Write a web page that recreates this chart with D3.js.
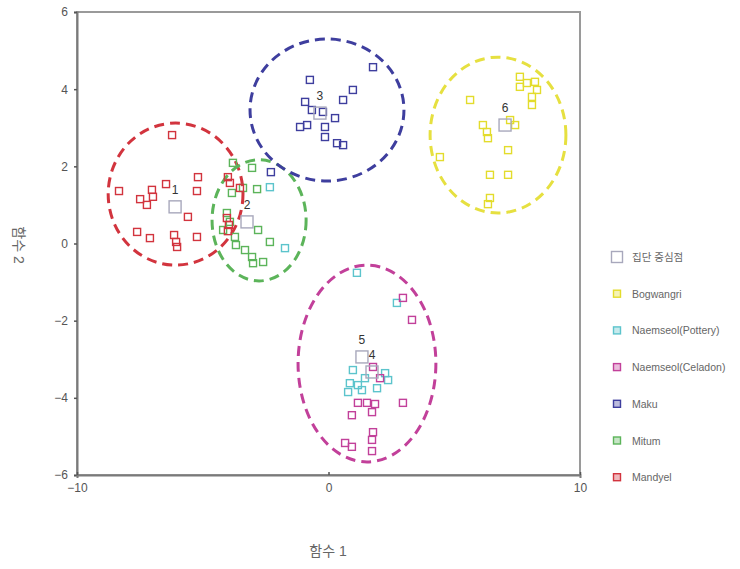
<!DOCTYPE html>
<html>
<head>
<meta charset="utf-8">
<script src="https://cdn.jsdelivr.net/npm/d3@7"></script>
<style>
  html, body { margin: 0; padding: 0; background: #fff; }
  svg { display: block; }
  text { font-family: "Liberation Sans", Arial, "Noto Sans CJK KR", sans-serif; }
</style>
</head>
<body>
<svg id="chart" width="740" height="569"></svg>
<script>
// Discriminant function scores (function 1, function 2) per group
const bogwangri = [[5.63,3.72],[7.61,4.32],[7.89,4.16],[8.21,4.19],[8.29,3.98],[8.09,3.80],[7.61,4.06],
  [8.09,3.59],[7.22,3.20],[7.42,3.07],[6.14,3.07],[6.30,2.89],[6.34,2.73],[7.14,2.42],[4.43,2.24],
  [6.42,1.78],[7.14,1.78],[6.42,1.18],[6.34,1.02]];
const naemseolPottery = [[-2.33,1.46],[-1.73,-0.12],[1.13,-0.76],[2.72,-1.54],[0.97,-3.28],[2.25,-3.36],
  [0.85,-3.62],[1.17,-3.67],[0.78,-3.85],[2.37,-3.54],[1.93,-3.75],[1.45,-3.49],[1.33,-3.80]];
const naemseolCeladon = [[2.96,-1.41],[3.32,-1.98],[1.77,-3.20],[2.05,-3.49],[1.17,-4.13],[1.53,-4.13],
  [1.85,-4.16],[0.93,-4.45],[1.73,-4.37],[2.96,-4.13],[1.77,-4.89],[1.73,-5.09],[0.66,-5.17],
  [0.93,-5.27],[1.73,-5.38]];
const maku = [[-0.74,4.24],[0.97,3.98],[0.58,3.72],[1.77,4.57],[-0.93,3.67],[-0.66,3.46],[-0.22,3.41],
  [0.26,3.25],[-0.14,3.02],[-1.13,3.02],[-0.85,3.07],[-0.14,2.76],[0.34,2.60],[0.58,2.55],[-2.29,1.85]];
const mitum = [[-3.80,2.09],[-3.04,1.96],[-3.84,1.31],[-3.40,1.44],[-2.84,1.41],[-4.04,0.79],[-3.92,0.56],
  [-4.19,0.35],[-3.72,0.17],[-2.80,0.35],[-2.33,0.04],[-3.32,-0.17],[-3.04,-0.35],[-3.00,-0.51],
  [-2.60,-0.48],[-3.68,-0.04]];
const mandyel = [[-6.22,2.81],[-8.33,1.36],[-7.49,1.15],[-7.22,1.00],[-7.02,1.39],[-6.98,1.21],[-6.46,1.54],
  [-5.19,1.72],[-5.23,1.36],[-5.59,0.69],[-7.61,0.30],[-7.10,0.14],[-6.14,0.22],[-6.06,0.04],
  [-6.02,-0.09],[-5.23,0.17],[-4.00,1.72],[-3.92,1.57],[-3.52,1.44],[-4.04,0.66],[-3.96,0.48],[-4.00,0.32]];

// Group centroids, numbered 1..6
const centroidIds = ["1","2","3","4","5","6"];
const centroidPts = [[-6.10,0.95],[-3.24,0.56],[-0.34,3.38],[1.73,-3.33],[1.33,-2.94],[7.02,3.07]];

// Group region outlines: centre x, centre y, radius x, radius y (data units)
const regionNames = ["Mandyel","Mitum","Maku","Bogwangri","Naemseol(Celadon)"];
const regionShapes = [[-6.08,1.28,2.68,1.84],[-2.76,0.60,1.87,1.57],[-0.06,3.46,3.06,1.84],
  [6.74,2.81,2.70,2.02],[1.53,-3.11,2.74,2.55]];

// Legend order
const legendLabels = ["집단 중심점","Bogwangri","Naemseol(Pottery)","Naemseol(Celadon)","Maku","Mitum","Mandyel"];

const xTicks = [-10, 0, 10];
const yTicks = [-6, -4, -2, 0, 2, 4, 6];

const colors = {
  "Bogwangri": "#e3dc2c",
  "Naemseol(Pottery)": "#5cc4cc",
  "Naemseol(Celadon)": "#c2409a",
  "Maku": "#3e3e9e",
  "Mitum": "#5cb45a",
  "Mandyel": "#d2343e",
  "centroid": "#a8a8bc"
};
const regionColors = {
  "Mandyel": "#d2343e", "Mitum": "#5cb45a", "Maku": "#3e3e9e",
  "Bogwangri": "#e6e040", "Naemseol(Celadon)": "#c2409a"
};

const groups = [
  ["Bogwangri", bogwangri],
  ["Naemseol(Pottery)", naemseolPottery],
  ["Naemseol(Celadon)", naemseolCeladon],
  ["Maku", maku],
  ["Mitum", mitum],
  ["Mandyel", mandyel]
];

const svg = d3.select("#chart");
const L = 77, R = 580, T = 12, B = 475;
const x = d3.scaleLinear().domain([-10, 10]).range([L, R]);
const y = d3.scaleLinear().domain([-6, 6]).range([B, T]);

// Plot frame
svg.append("rect").attr("x", L).attr("y", T).attr("width", R - L).attr("height", B - T)
  .attr("fill", "none").attr("stroke", "#9a9a9a").attr("stroke-width", 2);

// Axes
const yAxis = d3.axisLeft(y).tickValues(yTicks).tickSize(3).tickPadding(6).tickFormat(d3.format("d"));
const gy = svg.append("g").attr("transform", `translate(${L},0)`).call(yAxis);
const xAxis = d3.axisBottom(x).tickValues(xTicks).tickSize(3).tickPadding(5).tickFormat(d3.format("d"));
const gx = svg.append("g").attr("transform", `translate(0,${B})`).call(xAxis);
[gx, gy].forEach(g => {
  g.select(".domain").attr("stroke", "#7a7a7a").attr("stroke-width", 2);
  g.selectAll(".tick line").attr("stroke", "#555").attr("stroke-width", 1.5);
  g.selectAll(".tick text").attr("fill", "#555").attr("font-size", 12);
});
gx.selectAll(".tick line").attr("transform", "translate(0,-3)");

// Axis titles
svg.append("text").attr("x", 328).attr("y", 556).attr("text-anchor", "middle")
  .attr("font-size", 14).attr("fill", "#666").text("함수 1");
svg.append("text").attr("transform", "translate(14,245) rotate(90)").attr("text-anchor", "middle")
  .attr("font-size", 14).attr("fill", "#666").text("함수 2");

// Dashed group regions
svg.append("g").selectAll("ellipse").data(regionShapes).join("ellipse")
  .attr("cx", d => x(d[0])).attr("cy", d => y(d[1]))
  .attr("rx", d => x(d[0] + d[2]) - x(d[0])).attr("ry", d => y(d[1] - d[3]) - y(d[1]))
  .attr("fill", "none")
  .attr("stroke", (d, i) => regionColors[regionNames[i]])
  .attr("stroke-width", 3)
  .attr("stroke-dasharray", "10,6");

// Case scores as open squares
const s = 7;
groups.forEach(([name, pts]) => {
  svg.append("g").selectAll("rect").data(pts).join("rect")
    .attr("x", d => x(d[0]) - s / 2).attr("y", d => y(d[1]) - s / 2)
    .attr("width", s).attr("height", s)
    .attr("fill", "none").attr("stroke", colors[name]).attr("stroke-width", 1.4);
});

// Centroids
const cs = 12;
svg.append("g").selectAll("rect").data(centroidPts).join("rect")
  .attr("x", d => x(d[0]) - cs / 2).attr("y", d => y(d[1]) - cs / 2)
  .attr("width", cs).attr("height", cs)
  .attr("fill", "none").attr("stroke", colors.centroid).attr("stroke-width", 1.4);
svg.append("g").selectAll("text").data(centroidPts).join("text")
  .attr("x", d => x(d[0])).attr("y", d => y(d[1]) - 13)
  .attr("text-anchor", "middle").attr("font-size", 12).attr("fill", "#333")
  .text((d, i) => centroidIds[i]);

// Legend
const lg = svg.append("g");
legendLabels.forEach((lab, i) => {
  const ly = 257 + i * 36.7;
  const isC = i === 0;
  const sz = isC ? 11 : 7;
  const col = isC ? colors.centroid : colors[lab];
  lg.append("rect").attr("x", 617 - sz / 2).attr("y", ly - sz / 2).attr("width", sz).attr("height", sz)
    .attr("fill", isC ? "none" : col).attr("fill-opacity", 0.35)
    .attr("stroke", col).attr("stroke-width", 1.4);
  lg.append("text").attr("x", 632).attr("y", ly + 4).attr("font-size", 10.5).attr("fill", "#666").text(lab);
});
</script>
</body>
</html>
